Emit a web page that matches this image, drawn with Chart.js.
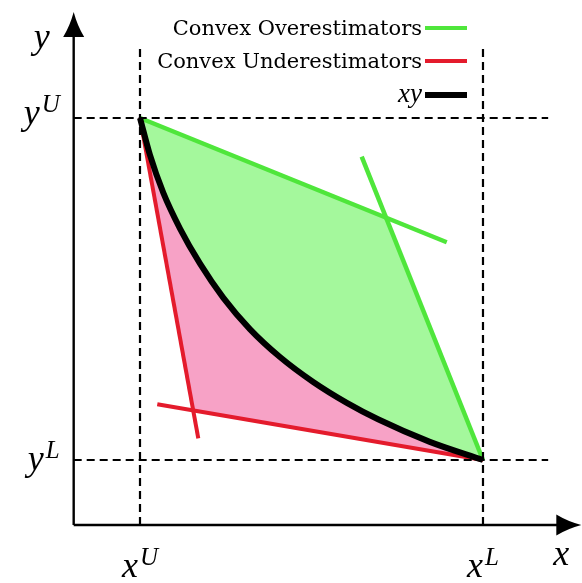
<!DOCTYPE html>
<html>
<head>
<meta charset="utf-8">
<script src="https://cdn.jsdelivr.net/npm/chart.js@4.4.1/dist/chart.umd.min.js"></script>
<style>
  html, body { margin: 0; padding: 0; background: #fff; }
  #wrap { width: 582px; height: 583px; position: relative; }
</style>
</head>
<body>
<div id="wrap"><canvas id="c"></canvas></div>
<script>
// ── data ─────────────────────────────────────────────────────────────────
// bilinear term xy on the box, curve from (x^U, y^U) corner to (x^L, y^L) corner
const curveX = [1.000, 1.087, 1.204, 1.351, 1.525, 1.729, 1.963, 2.224, 2.515, 2.809, 3.082, 3.535, 4.000];
const curveY = [4.000, 3.676, 3.343, 3.028, 2.722, 2.422, 2.146, 1.903, 1.684, 1.501, 1.357, 1.159, 1.000];

// convex overestimators (two line pieces) and their crossing
const overA = [[1.000, 4.000], [3.683, 2.910]];
const overB = [[2.939, 3.661], [4.000, 1.000]];
const overCorner = [3.152, 3.129];

// convex underestimators and their crossing
const underA = [[1.000, 4.000], [1.510, 1.190]];
const underB = [[1.151, 1.489], [4.000, 1.000]];
const underCorner = [1.465, 1.437];

// bounds
const xTicks = [1, 4],  xTickSup = ["U", "L"];
const yTicks = [4, 1],  yTickSup = ["U", "L"];
const axisX0 = 0.42, axisY0 = 0.43;      // where the two axes cross
const axisXEnd = 4.86, axisYEnd = 4.93;  // arrow tips
const dashTop = 4.61, dashRight = 4.57;  // ends of the dashed guide lines

const legendLabels = ["Convex Overestimators", "Convex Underestimators", "xy"];

// ── colours ──────────────────────────────────────────────────────────────
const GREEN = "#4fe63b", GREEN_FILL = "#a4f89c";
const RED = "#e41b2c", PINK_FILL = "#f7a2c6";
const BLACK = "#000";

// ── helpers ──────────────────────────────────────────────────────────────
const pts = (xs, ys) => xs.map((x, i) => ({ x, y: ys[i] }));
const seg = s => s.map(([x, y]) => ({ x, y }));
const curve = pts(curveX, curveY);
const curveRev = curve.slice().reverse();

const greenShape = [{ x: 1, y: 4 }, { x: overCorner[0], y: overCorner[1] }, ...curveRev];
const pinkShape  = [{ x: 1, y: 4 }, { x: underCorner[0], y: underCorner[1] }, ...curveRev];

const dashed = (data) => ({
  data, showLine: true, borderColor: BLACK, borderWidth: 2.2, borderDash: [8, 5],
  pointRadius: 0, order: 1,
});
const solid = (data, color, w, order) => ({
  data, showLine: true, borderColor: color, borderWidth: w,
  pointRadius: 0, order, borderCapStyle: "butt",
});

const datasets = [
  { data: greenShape, showLine: true, fill: "shape", backgroundColor: GREEN_FILL,
    borderWidth: 0, pointRadius: 0, order: 10 },
  { data: pinkShape, showLine: true, fill: "shape", backgroundColor: PINK_FILL,
    borderWidth: 0, pointRadius: 0, order: 10 },
  solid(seg(underA), RED, 4, 6),
  solid(seg(underB), RED, 4, 6),
  solid(seg(overA), GREEN, 4.5, 5),
  solid(seg(overB), GREEN, 4.5, 5),
  { data: curve, showLine: true, borderColor: BLACK, borderWidth: 6, pointRadius: 0,
    cubicInterpolationMode: "monotone", order: 4 },
  dashed([{ x: xTicks[0], y: axisY0 }, { x: xTicks[0], y: dashTop }]),
  dashed([{ x: xTicks[1], y: axisY0 }, { x: xTicks[1], y: dashTop }]),
  dashed([{ x: axisX0, y: yTicks[0] }, { x: dashRight, y: yTicks[0] }]),
  dashed([{ x: axisX0, y: yTicks[1] }, { x: dashRight, y: yTicks[1] }]),
  solid([{ x: axisX0, y: axisY0 }, { x: axisXEnd - 0.1, y: axisY0 }], BLACK, 2.4, 0),
  solid([{ x: axisX0, y: axisY0 }, { x: axisX0, y: axisYEnd - 0.1 }], BLACK, 2.4, 0),
];

// ── decorations: arrow heads, math labels, legend ────────────────────────
const MATH = "italic 36px 'Liberation Serif'";
const SUP = "italic 25px 'Liberation Serif'";

function mathLabel(ctx, base, sup, x, y, align) {
  ctx.font = MATH;
  const wb = ctx.measureText(base).width;
  ctx.font = SUP;
  const ws = sup ? ctx.measureText(sup).width : 0;
  const w = wb + ws + (sup ? 2 : 0);
  let left = x;
  if (align === "center") left = x - w / 2;
  if (align === "right") left = x - w;
  ctx.textAlign = "left";
  ctx.textBaseline = "alphabetic";
  ctx.font = MATH;
  ctx.fillText(base, left, y);
  if (sup) { ctx.font = SUP; ctx.fillText(sup, left + wb + 2, y - 12); }
}

function arrow(ctx, x, y, dir) {
  // stealth-ish arrow head, tip at (x, y)
  const L = 25, W = 10.5;
  ctx.save();
  ctx.translate(x, y);
  ctx.rotate(dir);
  ctx.beginPath();
  ctx.moveTo(0, 0);
  ctx.quadraticCurveTo(-L * 0.55, -W * 0.35, -L, -W);
  ctx.lineTo(-L, W);
  ctx.quadraticCurveTo(-L * 0.55, W * 0.35, 0, 0);
  ctx.closePath();
  ctx.fillStyle = BLACK;
  ctx.fill();
  ctx.restore();
}

const decor = {
  id: "decor",
  afterDatasetsDraw(chart) {
    const { ctx, scales: { x, y } } = chart;
    ctx.save();
    ctx.fillStyle = BLACK;

    arrow(ctx, x.getPixelForValue(axisXEnd), y.getPixelForValue(axisY0), 0);
    arrow(ctx, x.getPixelForValue(axisX0), y.getPixelForValue(axisYEnd), -Math.PI / 2);

    const ax = x.getPixelForValue(axisX0), ay = y.getPixelForValue(axisY0);
    xTicks.forEach((v, i) => mathLabel(ctx, "x", xTickSup[i], x.getPixelForValue(v), ay + 52, "center"));
    yTicks.forEach((v, i) => mathLabel(ctx, "y", yTickSup[i], ax - 14, y.getPixelForValue(v) + (i ? 10 : 6), "right"));
    mathLabel(ctx, "x", "", x.getPixelForValue(axisXEnd) - 28, ay + 40, "left");
    mathLabel(ctx, "y", "", ax - 40, y.getPixelForValue(axisYEnd) + 36, "left");

    // legend (text right aligned, sample to the right)
    const colors = [GREEN, RED, BLACK], widths = [4, 4, 6];
    const rx = 422, rows = [28, 61, 95];
    legendLabels.forEach((t, i) => {
      ctx.font = i === 2 ? "italic 27px 'Liberation Serif'" : "21px 'DejaVu Serif'";
      ctx.textAlign = "right";
      ctx.textBaseline = "alphabetic";
      ctx.fillStyle = BLACK;
      ctx.fillText(t, rx, rows[i] + 7);
      ctx.beginPath();
      ctx.moveTo(rx + 3, rows[i]);
      ctx.lineTo(rx + 45, rows[i]);
      ctx.strokeStyle = colors[i];
      ctx.lineWidth = widths[i];
      ctx.stroke();
    });
    ctx.restore();
  },
};

new Chart(document.getElementById("c"), {
  type: "scatter",
  data: { datasets },
  options: {
    responsive: true, maintainAspectRatio: false, animation: false,
    layout: { padding: 0 },
    scales: {
      x: { type: "linear", min: -0.2245, max: 4.866, display: false },
      y: { type: "linear", min: -0.079, max: 5.035, display: false },
    },
    plugins: { legend: { display: false }, tooltip: { enabled: false } },
    elements: { line: { tension: 0 } },
  },
  plugins: [decor],
});
</script>
</body>
</html>
